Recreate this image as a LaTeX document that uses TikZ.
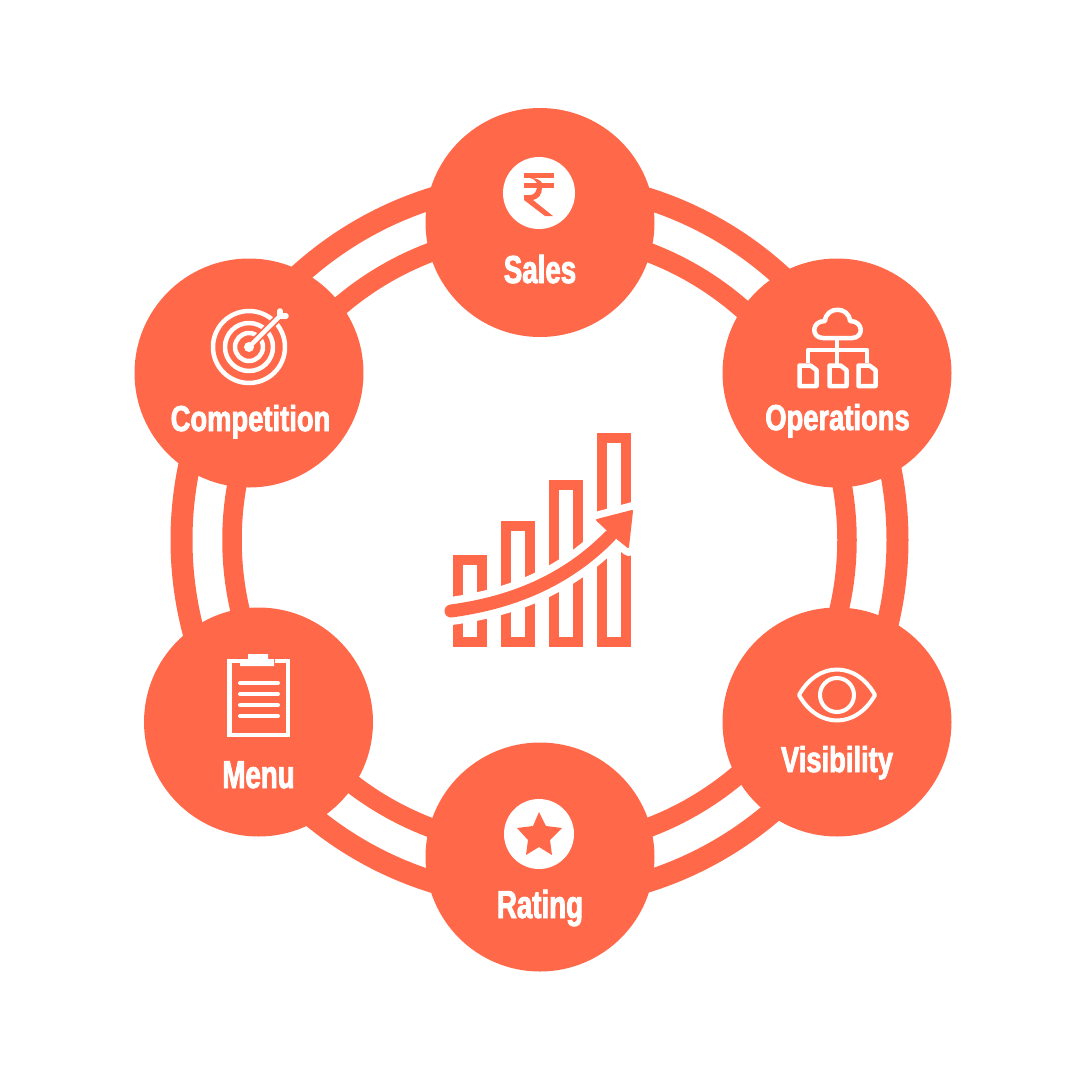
\documentclass[tikz,border=0pt]{standalone}
\usepackage{fontspec}
\newfontfamily\labbig{Liberation Sans}[UprightFont=* Bold,FakeStretch=0.71,FakeBold=2.2]
\newfontfamily\labsmall{Liberation Sans}[UprightFont=* Bold,FakeStretch=0.76,FakeBold=2.2]
\definecolor{coral}{HTML}{FF694A}
\tikzset{
 hub/.style={circle,fill=coral,minimum size=229pt,inner sep=0pt},
 tagbig/.style={text=white,font=\labbig\fontsize{39pt}{39pt}\selectfont,inner sep=0pt,anchor=base},
 tagsmall/.style={text=white,font=\labsmall\fontsize{36pt}{36pt}\selectfont,inner sep=0pt,anchor=base},
 ico/.style={draw=white,line width=4.5pt,fill=none,line join=round,line cap=round},
 bar/.style={draw=coral,line width=10pt,fill=none}
}
\begin{document}
\begin{tikzpicture}[x=1pt,y=-1pt]
\useasboundingbox (0,0) rectangle (1080,1080);
\fill[white] (0,0) rectangle (1080,1080);
\coordinate (c) at (539.5,540);
\draw[draw=coral,line width=22pt] (c) circle[radius=358];
\draw[draw=coral,line width=19.5pt] (c) circle[radius=307.5];
\node[hub] (sales) at (540,222.5) {};
\node[hub] (ops) at (837,373) {};
\node[hub] (vis) at (837,722) {};
\node[hub] (rat) at (540,857) {};
\node[hub] (menu) at (258.5,722) {};
\node[hub] (comp) at (249,373) {};
\node[tagbig] (tsales) at (540,283) {Sales};
\node[tagsmall] (tops) at (837.5,430) {Operations};
\node[tagsmall] (tvis) at (837,772) {Visibility};
\node[tagbig] (trat) at (540,918) {Rating};
\node[tagbig] (tmenu) at (258.5,788) {Menu};
\node[tagsmall] (tcomp) at (250.5,431) {Competition};
% rupee
\fill[white] (539,193) circle[radius=36];
\fill[coral] (524,173) rectangle (554,178);
\fill[coral] (524,183) rectangle (554,188);
\fill[coral] (542,188) .. controls (542,195) and (538,199) .. (533,200) -- (553,216) -- (545,216) -- (524,200) -- (524,195) -- (530,195) .. controls (534,195) and (536,192) .. (537,188) -- cycle;
\fill[coral] (532,178) .. controls (537,178) and (541,181) .. (542,183) -- (537,183) .. controls (536,181) and (534,179) .. (530,178) -- cycle;
% cloud org
\draw[ico] (823,338) .. controls (811,338) and (811,321) .. (825,321) .. controls (826,306) and (849,306) .. (850,321) .. controls (864,321) and (864,338) .. (852,338) -- cycle;
\draw[ico,line cap=butt] (837,338) -- (837,365) (808,363) -- (808,350) -- (867,350) -- (867,363);
\foreach \x in {799.5,829.5,858.5}{
 \draw[ico] (\x,386) -- (\x,365.5) -- (\x+11,365.5) -- (\x+17,370) -- (\x+17,386) -- cycle;
}
% target
\draw[ico] (249,347) circle[radius=36];
\draw[ico] (249,347) circle[radius=24];
\draw[ico] (249,347) circle[radius=14];
\fill[white] (249,347) circle[radius=5];
\draw[coral,line width=8pt] (256,340) -- (286,310);
\draw[ico] (249,347) -- (279,317);
\draw[ico,line width=5.5pt] (280,311) -- (280,316) -- (286,316);
% clipboard
\draw[ico,line cap=butt,line join=miter] (243,661) -- (229.5,661) -- (229.5,735) -- (288,735) -- (288,661) -- (275,661);
\fill[white] (240,659) -- (248,659) -- (248,654) -- (268,654) -- (268,659) -- (274,659) -- (274,666) -- (240,666) -- cycle;
\foreach \y in {683,694,705,716}{\draw[ico,line width=4pt] (240,\y) -- (278,\y);}
% eye
\draw[ico,line width=4pt] (799,695) .. controls (818,661) and (856,661) .. (875,695) .. controls (856,729) and (818,729) .. (799,695) -- cycle;
\draw[ico,line width=4pt] (837,695) circle[radius=17];
% star
\fill[white] (539,834) circle[radius=35];
\fill[coral] (539,812) -- (546,826) -- (562,828) -- (550,840) -- (552,855) -- (539,847) -- (526,855) -- (528,840) -- (517,828) -- (533,826) -- cycle;
% chart
\draw[bar] (458,642) rectangle (482,560);
\draw[bar] (506,642) rectangle (530,526);
\draw[bar] (554,642) rectangle (578,485);
\draw[bar] (602,642) rectangle (626,438);
\draw[white,line width=28pt] (451,611) .. controls (510,603) and (565,582) .. (610,536);
\fill[white,draw=white,line width=16pt,line join=round] (596,520) -- (633,510) -- (629,548) -- cycle;
\draw[coral,line width=13pt,line cap=round] (451,611) .. controls (510,603) and (565,582) .. (610,536);
\fill[coral,draw=coral,line width=2pt,line join=round] (597,520) -- (632,511) -- (628,547) -- (612,534) -- cycle;
\end{tikzpicture}
\end{document}
